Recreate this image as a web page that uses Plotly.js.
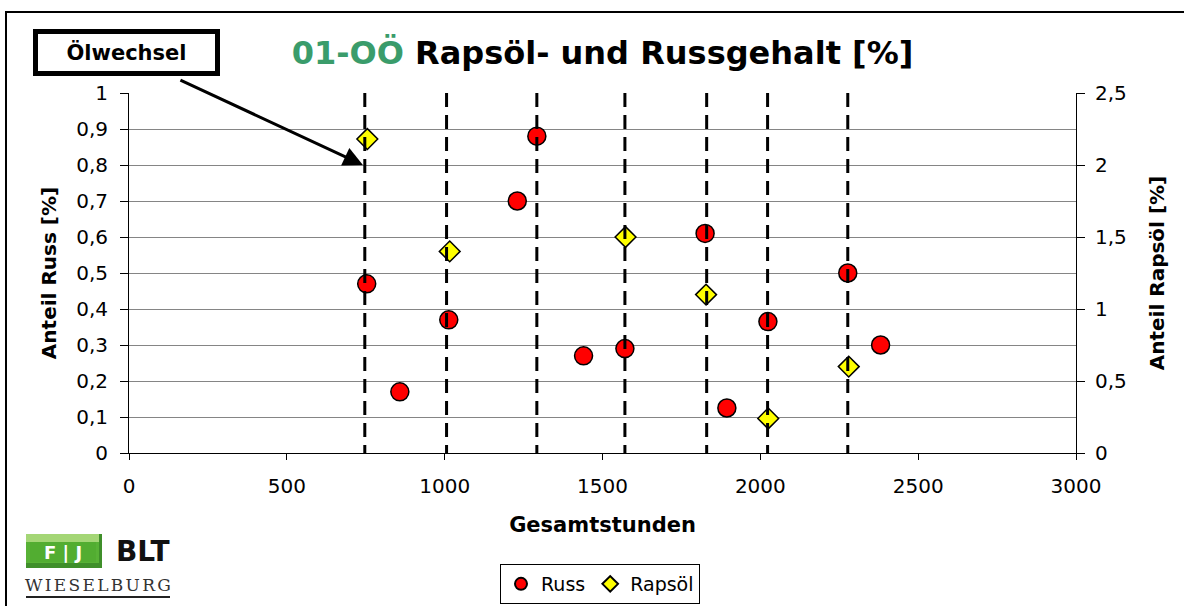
<!DOCTYPE html>
<html>
<head>
<meta charset="utf-8">
<script src="https://cdn.plot.ly/plotly-3.0.1.min.js"></script>
<style>
  html, body { margin: 0; padding: 0; width: 1184px; height: 606px; overflow: hidden; background: #fff; }
  #chart { position: absolute; left: 0; top: 0; width: 1184px; height: 606px; }
  #frame { position: absolute; left: 5px; top: 11px; width: 1400px; height: 800px; border: 2px solid #000; pointer-events: none; z-index: 5; }
  text[data-unformatted="WIESELBURG"] { letter-spacing: 2.3px; }
</style>
</head>
<body>
<div id="chart"></div>
<div id="frame"></div>
<script>
// ---- data ----
const russHours  = [753, 858, 1013, 1230, 1292, 1440, 1571, 1825, 1894, 2024, 2277, 2381];
const russValues = [0.47, 0.17, 0.37, 0.70, 0.88, 0.27, 0.29, 0.61, 0.125, 0.365, 0.50, 0.30];

const rapsHours  = [755, 1016, 1573, 1828, 2025, 2280];
const rapsValues = [2.18, 1.40, 1.50, 1.10, 0.24, 0.60];

const oilChangeHours = [747, 1006, 1292, 1571, 1830, 2023, 2277];

const xTickVals = [0, 500, 1000, 1500, 2000, 2500, 3000];

const seriesNames = ['Russ', 'Rapsöl'];
const titleCode = '01-OÖ';
const titleRest = 'Rapsöl- und Russgehalt [%]';
const oilLabel = 'Ölwechsel';

// ---- layout geometry (pixels) ----
const W = 1184, H = 606;
const M = { l: 129, r: 108, t: 93, b: 153, autoexpand: false };
const PW = W - M.l - M.r, PH = H - M.t - M.b;
const pxX = x => (x - M.l) / PW;
const pxY = y => (H - M.b - y) / PH;

const font = 'DejaVu Sans';

const traces = [
  {
    type: 'scatter', mode: 'markers', name: seriesNames[0],
    x: russHours, y: russValues, xaxis: 'x', yaxis: 'y',
    marker: { symbol: 'circle', size: 18, color: '#ff0000', line: { color: '#000', width: 1.5 } },
    cliponaxis: false
  },
  {
    type: 'scatter', mode: 'markers', name: seriesNames[1],
    x: rapsHours, y: rapsValues, xaxis: 'x', yaxis: 'y2',
    marker: { symbol: 'diamond', size: 16, color: '#ffff00', line: { color: '#000', width: 1.5 } },
    cliponaxis: false
  }
];

const shapes = oilChangeHours.map(h => ({
  type: 'line', xref: 'x', yref: 'paper', x0: h, x1: h, y0: 1, y1: 0,
  line: { color: '#000', width: 3, dash: '14px,8px' }, layer: 'above'
}));

function prect(x0, x1, y0, y1, fill) {
  return { type: 'rect', xref: 'paper', yref: 'paper', x0: pxX(x0), x1: pxX(x1), y0: pxY(y1), y1: pxY(y0),
    fillcolor: fill, line: { width: 0 }, layer: 'above' };
}
// logo block (bevelled green)
shapes.push(prect(26, 102, 534, 568, '#3f8f2a'));
shapes.push(prect(26, 99, 534, 563, '#58b236'));
shapes.push(prect(26, 99, 534, 542, '#a4d676'));
shapes.push(prect(30, 96, 542, 562, '#52ad31'));
shapes.push({ type: 'line', xref: 'paper', yref: 'paper', x0: pxX(26), x1: pxX(170), y0: pxY(597), y1: pxY(597),
  line: { color: '#222', width: 2 }, layer: 'above' });

const annotations = [
  {
    xref: 'paper', yref: 'paper', x: pxX(126.5), y: pxY(52.5), xanchor: 'center', yanchor: 'middle',
    text: oilLabel, showarrow: false, width: 177, height: 37,
    bordercolor: '#000', borderwidth: 5, borderpad: 0, bgcolor: '#fff',
    font: { family: font, size: 21, color: '#000', weight: 700 }
  },
  {
    xref: 'x', yref: 'y', x: oilChangeHours[0] - 6, y: 0.8, text: ' ', showarrow: true,
    arrowhead: 2, arrowsize: 1.3, arrowwidth: 3, arrowcolor: '#000', standoff: 0,
    axref: 'pixel', ayref: 'pixel', ax: -187, ay: -87
  },
  {
    xref: 'paper', yref: 'paper', x: pxX(63), y: pxY(552), xanchor: 'center', yanchor: 'middle',
    text: 'F | J', showarrow: false, font: { family: font, size: 18, color: '#fff', weight: 700 }
  },
  {
    xref: 'paper', yref: 'paper', x: pxX(143), y: pxY(551), xanchor: 'center', yanchor: 'middle',
    text: 'BLT', showarrow: false, font: { family: font, size: 28, color: '#111', weight: 700 }
  },
  {
    xref: 'paper', yref: 'paper', x: pxX(99), y: pxY(585), xanchor: 'center', yanchor: 'middle',
    text: 'WIESELBURG', showarrow: false, font: { family: 'DejaVu Serif', size: 17, color: '#333' }
  }
];

const layout = {
  width: W, height: H,
  margin: M,
  paper_bgcolor: '#fff', plot_bgcolor: '#fff',
  separators: ',.',
  font: { family: font, size: 20, color: '#000' },
  showlegend: true,
  title: {
    text: '<span style="color:#3a9c6b">' + titleCode + '</span> ' + titleRest,
    font: { family: font, size: 32, color: '#000', weight: 700 },
    xref: 'paper', x: 0.5, xanchor: 'center',
    yref: 'container', y: 1 - 53 / H, yanchor: 'middle'
  },
  xaxis: {
    range: [0, 3000], tickvals: xTickVals, showgrid: false, zeroline: false,
    showline: true, linecolor: '#000', linewidth: 1,
    ticks: 'outside', ticklen: 6, tickcolor: '#000', tickwidth: 1,
    ticklabelstandoff: 9,
    tickfont: { family: font, size: 20, color: '#000' },
    automargin: false,
    title: { text: 'Gesamtstunden', standoff: 20, font: { family: font, size: 21, color: '#000', weight: 700 } }
  },
  yaxis: {
    range: [0, 1], dtick: 0.1, tick0: 0,
    showgrid: true, gridcolor: '#858585', gridwidth: 1, zeroline: false,
    showline: true, linecolor: '#000', linewidth: 1,
    ticks: 'outside', ticklen: 8, tickcolor: '#000', tickwidth: 1,
    ticklabelstandoff: 8,
    tickfont: { family: font, size: 20, color: '#000' },
    automargin: false,
    title: { text: 'Anteil Russ [%]', standoff: 14, font: { family: font, size: 20, color: '#000', weight: 700 } }
  },
  yaxis2: {
    range: [0, 2.5], dtick: 0.5, tick0: 0, overlaying: 'y', side: 'right',
    showgrid: false, zeroline: false,
    showline: true, linecolor: '#000', linewidth: 1,
    ticks: 'outside', ticklen: 8, tickcolor: '#000', tickwidth: 1,
    ticklabelstandoff: 6,
    tickfont: { family: font, size: 20, color: '#000' },
    automargin: false,
    title: { text: 'Anteil Rapsöl [%]', standoff: 24, font: { family: font, size: 20, color: '#000', weight: 700 } }
  },
  legend: {
    orientation: 'h', x: pxX(600), xanchor: 'center', y: pxY(564), yanchor: 'top',
    bordercolor: '#000', borderwidth: 1, bgcolor: '#fff',
    itemsizing: 'constant', itemwidth: 30,
    font: { family: font, size: 19, color: '#000' }
  },
  shapes: shapes,
  annotations: annotations
};

Plotly.newPlot('chart', traces, layout, { staticPlot: true, displayModeBar: false });
</script>
</body>
</html>
